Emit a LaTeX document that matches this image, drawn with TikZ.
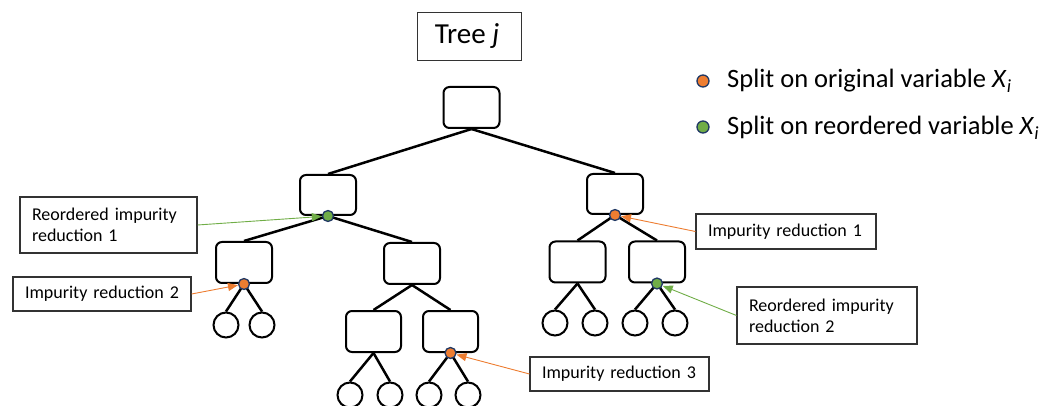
\documentclass[tikz,border=0pt]{standalone}
\usepackage{fontspec}
\setmainfont{Carlito}
\usetikzlibrary{arrows.meta}
\definecolor{orng}{HTML}{ED7D31}
\definecolor{grn}{HTML}{70AD47}
\definecolor{navy}{HTML}{203864}
\tikzset{
  tbox/.style={draw=black, line width=2pt, rounded corners=6pt, minimum width=56pt, minimum height=41pt, inner sep=0pt},
  leaf/.style={draw=black, line width=2pt, circle, minimum size=25pt, inner sep=0pt},
  tedge/.style={draw=black, line width=2.5pt},
  odot/.style={circle, fill=orng, draw=navy, line width=1.3pt, minimum size=11pt, inner sep=0pt},
  gdot/.style={circle, fill=grn, draw=navy, line width=1.3pt, minimum size=11pt, inner sep=0pt},
  lbl/.style={draw=black!80, line width=1.1pt, inner xsep=12pt, inner ysep=0pt, align=left, font=\fontsize{18}{21}\selectfont},
  oarr/.style={draw=orng, line width=0.9pt, -{Triangle[length=10pt,width=8pt]}},
  garr/.style={draw=grn, line width=0.9pt, -{Triangle[length=10pt,width=8pt]}},
  legtext/.style={anchor=base west, inner sep=0pt, font=\fontsize{26.5}{30}\selectfont}
}
\begin{document}
\begin{tikzpicture}[x=1pt,y=-1pt]
\useasboundingbox (0,0) rectangle (1042,406);
\clip (0,0) rectangle (1042,406);
% title
\node[draw=black!80, line width=1.1pt, minimum width=104pt, minimum height=48pt, inner sep=0pt, font=\fontsize{29}{32}\selectfont] (title) at (469.5,36.5) {Tree \textit{j}\,};
% tree boxes
\node[tbox] (root) at (471.5,107.5) {};
\node[tbox, minimum height=40pt] (La) at (328,195) {};
\node[tbox, minimum height=40pt] (Lb) at (615,194) {};
\node[tbox] (Ma) at (244,262.5) {};
\node[tbox] (Mb) at (412,263.5) {};
\node[tbox] (Mc) at (577.5,262) {};
\node[tbox] (Md) at (657,262) {};
\node[tbox, minimum width=55pt] (Na) at (373.5,331.5) {};
\node[tbox, minimum width=55pt] (Nb) at (450.5,331.5) {};
% leaves
\node[leaf] (a1) at (226,325) {};
\node[leaf] (a2) at (262,325) {};
\node[leaf] (c1) at (555,323) {};
\node[leaf] (c2) at (595,323) {};
\node[leaf] (d1) at (635,323) {};
\node[leaf] (d2) at (675,323) {};
\node[leaf] (e1) at (350,395) {};
\node[leaf] (e2) at (390,395) {};
\node[leaf] (f1) at (429,395) {};
\node[leaf] (f2) at (468,395) {};
% edges
\draw[tedge] (root.south) -- (La.north);
\draw[tedge] (root.south) -- (Lb.north);
\draw[tedge] (La.south) -- (Ma.north);
\draw[tedge] (La.south) -- (Mb.north);
\draw[tedge] (Lb.south) -- (Mc.north);
\draw[tedge] (Lb.south) -- (Md.north);
\draw[tedge] (Mb.south) -- (Na.north);
\draw[tedge] (Mb.south) -- (Nb.north);
\draw[tedge] (Ma.south) -- (a1.north);
\draw[tedge] (Ma.south) -- (a2.north);
\draw[tedge] (Mc.south) -- (c1.north);
\draw[tedge] (Mc.south) -- (c2.north);
\draw[tedge] (Md.south) -- (d1.north);
\draw[tedge] (Md.south) -- (d2.north);
\draw[tedge] (Na.south) -- (e1.north);
\draw[tedge] (Na.south) -- (e2.north);
\draw[tedge] (Nb.south) -- (f1.north);
\draw[tedge] (Nb.south) -- (f2.north);
% split markers
\node[gdot] (s1) at (La.south) {};
\node[odot] (s2) at (Lb.south) {};
\node[odot] (s3) at (Ma.south) {};
\node[gdot] (s4) at (Md.south) {};
\node[odot] (s5) at (Nb.south) {};
% labels
\node[lbl, text width=153pt, minimum height=56pt] (r1) at (108.5,225) {Reordered impurity\\reduction 1};
\node[lbl, text width=154pt, minimum height=34pt] (i2) at (102,294) {\mbox{Impurity reduction 2}};
\node[lbl, text width=156pt, minimum height=35pt] (i1) at (786,231.5) {\mbox{Impurity reduction 1}};
\node[lbl, text width=156pt, minimum height=57pt] (r2) at (827,315.5) {Reordered impurity\\reduction 2};
\node[lbl, text width=155pt, minimum height=34pt] (i3) at (619.5,374) {\mbox{Impurity reduction 3}};
% arrows
\draw[garr] (r1.east) -- (s1);
\draw[oarr] (i2.east) -- (s3);
\draw[oarr] (i1.west) -- (s2);
\draw[garr] (r2.west) -- (s4);
\draw[oarr] (i3.west) -- (s5);
% legend
\node[odot, minimum size=12pt] (lg1) at (703,81) {};
\node[gdot, minimum size=12pt] (lg2) at (703,127) {};
\node[legtext] (lt1) at (727,88) {Split on original variable \textit{X}\textsubscript{\textit{i}}};
\node[legtext] (lt2) at (727,135) {Split on reordered variable \textit{X}\textsubscript{\textit{i}}};
\end{tikzpicture}
\end{document}
